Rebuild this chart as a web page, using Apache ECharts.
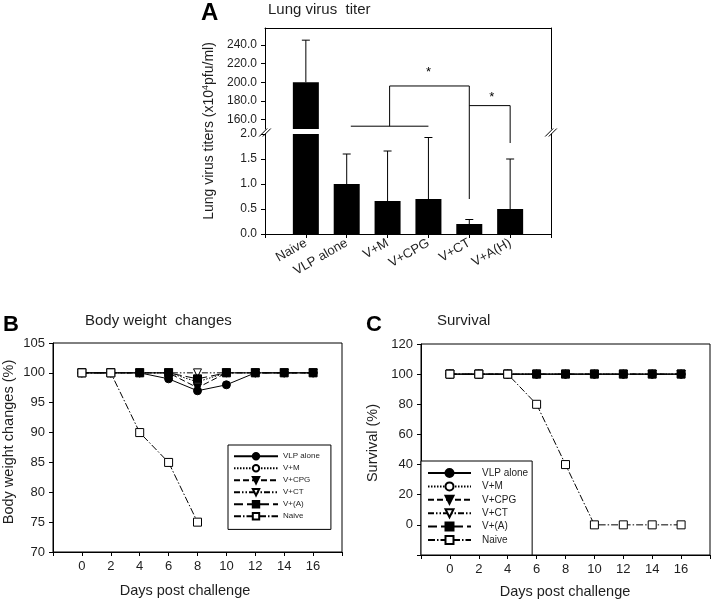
<!DOCTYPE html>
<html>
<head>
<meta charset="utf-8">
<script src="https://cdn.jsdelivr.net/npm/echarts@6/dist/echarts.min.js"></script>
<style>
  html, body { margin: 0; padding: 0; background: #fff; }
  #chart { width: 714px; height: 603px; }
</style>
</head>
<body>
<div id="chart"></div>
<script>
// ---- panel A: lung virus titer ----
const groups = ['Naive', 'VLP alone', 'V+M', 'V+CPG', 'V+CT', 'V+A(H)'];
const titerMean = [200, 1.0, 0.66, 0.7, 0.2, 0.5];
const titerErrTop = [245, 1.6, 1.66, 1.93, 0.29, 1.5];
const upperTicks = [160, 180, 200, 220, 240];
// significance brackets, points are [x, y, part] (part 0 = upper axis, 1 = lower axis)
const brackets = [
  [[2.1, 153, 0], [4.0, 153, 0]],
  [[3.05, 153, 0], [3.05, 196, 0]],
  [[3.05, 196, 0], [5, 196, 0]],
  [[5, 196, 0], [5, 0.7, 1]],
  [[5, 175, 0], [6, 175, 0]],
  [[6, 175, 0], [6, 1.82, 1]]
];
const stars = [[4.0, 211], [5.55, 184]];

// ---- panels B and C ----
const days = [0, 2, 4, 6, 8, 10, 12, 14, 16];
const legendNames = ['VLP alone', 'V+M', 'V+CPG', 'V+CT', 'V+(A)', 'Naive'];

const weightVLP   = [100, 100, 100, 99, 97, 98, 100, 100, 100];
const weightVM    = [100, 100, 100, 100, 98.5, 100, 100, 100, 100];
const weightVCPG  = [100, 100, 100, 100, 97.5, 100, 100, 100, 100];
const weightVCT   = [100, 100, 100, 100, 100, 100, 100, 100, 100];
const weightVA    = [100, 100, 100, 100, 99, 100, 100, 100, 100];
const weightNaive = [100, 100, 90, 85, 75];

const survVLP   = [100, 100, 100, 100, 100, 100, 100, 100, 100];
const survVM    = [100, 100, 100, 100, 100, 100, 100, 100, 100];
const survVCPG  = [100, 100, 100, 100, 100, 100, 100, 100, 100];
const survVCT   = [100, 100, 100, 100, 100, 100, 100, 100, 100];
const survVA    = [100, 100, 100, 100, 100, 100, 100, 100, 100];
const survNaive = [100, 100, 100, 80, 40, 0, 0, 0, 0];

const FONT = 'Liberation Sans, Arial, sans-serif';
const INK = '#1e1e1e';

const looks = [
  { symbol: 'circle', fill: '#000', dash: 'solid' },
  { symbol: 'circle', fill: '#fff', dash: [1.5, 1.5] },
  { symbol: 'triangle', rotate: 180, fill: '#000', dash: [6, 3] },
  { symbol: 'triangle', rotate: 180, fill: '#fff', dash: [6, 2, 1.5, 2, 1.5, 2] },
  { symbol: 'rect', fill: '#000', dash: [9, 4] },
  { symbol: 'rect', fill: '#fff', dash: [7, 2, 1.5, 2] }
];

function lineSeries(idx, values, axisIdx) {
  const look = looks[idx];
  return {
    type: 'line',
    name: legendNames[idx],
    xAxisIndex: axisIdx,
    yAxisIndex: axisIdx + 2,
    data: values.map((v, i) => [days[i], v]),
    symbol: look.symbol,
    symbolRotate: look.rotate || 0,
    symbolSize: 8,
    lineStyle: { color: '#000', width: 1, type: look.dash },
    itemStyle: { color: look.fill, borderColor: '#000', borderWidth: 1 },
    emphasis: { disabled: true },
    z: 3 + idx
  };
}

const errorBars = function (params, api) {
  const x = api.value(0);
  const a = api.coord([x, api.value(1)]);
  const b = api.coord([x, api.value(2)]);
  const cap = 4;
  return {
    type: 'group',
    children: [
      { type: 'line', shape: { x1: a[0], y1: a[1], x2: b[0], y2: b[1] }, style: { stroke: '#000', lineWidth: 1 } },
      { type: 'line', shape: { x1: b[0] - cap, y1: b[1], x2: b[0] + cap, y2: b[1] }, style: { stroke: '#000', lineWidth: 1 } }
    ]
  };
};

const barData = titerMean.map((v, i) => [i + 1, v]);
const errData = titerMean.map((v, i) => [i + 1, v, titerErrTop[i]]);

const axisLine = { show: true, onZero: false, lineStyle: { color: '#000', width: 1 } };
const tick = { show: true, length: 4, lineStyle: { color: '#000' } };
const label = (size) => ({ color: INK, fontSize: size, fontFamily: FONT });
const frameOnly = (extra) => Object.assign({
  type: 'value', min: 0, max: 1, axisLine: axisLine,
  axisTick: { show: false }, axisLabel: { show: false }, splitLine: { show: false }
}, extra);

const chart = echarts.init(document.getElementById('chart'));

let option = {
  animation: false,
  grid: [
    { left: 265, top: 28, width: 286, height: 101 },
    { left: 265, top: 134, width: 286, height: 100 },
    { left: 53, top: 343, width: 289, height: 209, show: true, borderColor: '#000', borderWidth: 1 },
    { left: 421, top: 344, width: 289, height: 211, show: true, borderColor: '#000', borderWidth: 1 }
  ],
  xAxis: [
    frameOnly({ gridIndex: 0, position: 'top', min: 0, max: 7 }),
    {
      type: 'value', gridIndex: 1, min: 0, max: 7, interval: 1,
      axisLine: axisLine, axisTick: tick, splitLine: { show: false },
      axisLabel: Object.assign(label(13), {
        rotate: 30, margin: 8,
        formatter: v => groups[v - 1] || ''
      })
    },
    {
      type: 'value', gridIndex: 2, min: -2, max: 18, interval: 2,
      axisLine: axisLine, axisTick: tick, splitLine: { show: false },
      axisLabel: Object.assign(label(13), { margin: 8, formatter: v => (v < 0 || v > 16) ? '' : v })
    },
    {
      type: 'value', gridIndex: 3, min: -2, max: 18, interval: 2,
      axisLine: axisLine, axisTick: tick, splitLine: { show: false },
      axisLabel: Object.assign(label(13), { margin: 8, formatter: v => (v < 0 || v > 16) ? '' : v })
    }
  ],
  yAxis: [
    {
      type: 'value', gridIndex: 0, min: 150, max: 258,
      axisLine: axisLine, splitLine: { show: false },
      axisTick: Object.assign({ customValues: upperTicks }, tick),
      axisLabel: Object.assign(label(12), { customValues: upperTicks, margin: 8, formatter: v => v.toFixed(1) })
    },
    frameOnly({ gridIndex: 0, position: 'right' }),
    {
      type: 'value', gridIndex: 1, min: 0, max: 2, interval: 0.5,
      axisLine: axisLine, axisTick: tick, splitLine: { show: false },
      axisLabel: Object.assign(label(12), { margin: 8, formatter: v => v.toFixed(1) })
    },
    frameOnly({ gridIndex: 1, position: 'right' }),
    {
      type: 'value', gridIndex: 2, min: 70, max: 105, interval: 5,
      axisLine: axisLine, axisTick: tick, splitLine: { show: false },
      axisLabel: Object.assign(label(13), { margin: 8 })
    },
    {
      type: 'value', gridIndex: 3, min: -20, max: 120, interval: 20,
      axisLine: axisLine, axisTick: tick, splitLine: { show: false },
      axisLabel: Object.assign(label(13), { margin: 8, formatter: v => v < 0 ? '' : v })
    }
  ],
  legend: [
    {
      orient: 'vertical', left: 228, top: 445, data: legendNames, selectedMode: false,
      itemWidth: 44, itemHeight: 8, itemGap: 3.6, padding: [7, 11, 9, 5],
      backgroundColor: '#fff', borderColor: '#000', borderWidth: 1, borderRadius: 0,
      textStyle: label(8), z: 10
    },
    {
      orient: 'vertical', left: 421, top: 461, data: legendNames, selectedMode: false,
      itemWidth: 43, itemHeight: 10, itemGap: 3.4, padding: [7, 4, 10, 6],
      backgroundColor: '#fff', borderColor: '#000', borderWidth: 1, borderRadius: 0,
      textStyle: Object.assign(label(10), { padding: [0, 0, 0, 6] }), z: 10
    }
  ],
  series: [
    { type: 'bar', name: 'titer-upper', xAxisIndex: 0, yAxisIndex: 0, data: barData, barWidth: 26, clip: true, itemStyle: { color: '#000' }, emphasis: { disabled: true } },
    { type: 'bar', name: 'titer-lower', xAxisIndex: 1, yAxisIndex: 2, data: barData, barWidth: 26, clip: true, itemStyle: { color: '#000' }, emphasis: { disabled: true } },
    { type: 'custom', name: 'err-upper', xAxisIndex: 0, yAxisIndex: 0, data: errData, renderItem: errorBars, clip: true, encode: { x: 0, y: 1 }, z: 4 },
    { type: 'custom', name: 'err-lower', xAxisIndex: 1, yAxisIndex: 2, data: errData, renderItem: errorBars, clip: true, encode: { x: 0, y: 1 }, z: 4 },

    lineSeries(0, weightVLP, 2),
    lineSeries(1, weightVM, 2),
    lineSeries(2, weightVCPG, 2),
    lineSeries(3, weightVCT, 2),
    lineSeries(4, weightVA, 2),
    lineSeries(5, weightNaive, 2),

    lineSeries(0, survVLP, 3),
    lineSeries(1, survVM, 3),
    lineSeries(2, survVCPG, 3),
    lineSeries(3, survVCT, 3),
    lineSeries(4, survVA, 3),
    lineSeries(5, survNaive, 3)
  ]
};
chart.setOption(option);

// texts, brackets and axis-break marks
function txt(text, x, y, size, extra) {
  return Object.assign({
    type: 'text', x: x, y: y, silent: true,
    style: Object.assign({ text: text, fontSize: size, fontFamily: FONT, fill: INK, align: 'left', verticalAlign: 'middle' }, extra || {})
  });
}
function vtxt(text, x, y, size) {
  const t = txt(text, x, y, size, { align: 'center' });
  t.rotation = Math.PI / 2;
  return t;
}
function seg(p, q) {
  return { type: 'line', silent: true, z: 20, shape: { x1: p[0], y1: p[1], x2: q[0], y2: q[1] }, style: { stroke: '#000', lineWidth: 1 } };
}
const toPx = (x, y, part) => chart.convertToPixel({ gridIndex: part }, [x, y]);

const graphics = [
  txt('A', 201, 13.5, 24, { fontWeight: 'bold', fill: '#000' }),
  txt('Lung virus  titer', 268, 9.5, 15),
  txt('B', 3, 325, 22, { fontWeight: 'bold', fill: '#000' }),
  txt('Body weight  changes', 85, 321, 15),
  txt('C', 366, 325, 22, { fontWeight: 'bold', fill: '#000' }),
  txt('Survival', 437, 321, 15),
  {
    type: 'text', x: 209, y: 131, rotation: Math.PI / 2, silent: true,
    style: {
      text: 'Lung virus titers (x10{sup|4}pfu/ml)', fontSize: 14, fontFamily: FONT, fill: INK,
      align: 'center', verticalAlign: 'middle',
      rich: { sup: { fontSize: 9, fontFamily: FONT, fill: INK, padding: [0, 0, 7, 0] } }
    }
  },
  vtxt('Body weight changes (%)', 9, 442, 14.5),
  vtxt('Survival (%)', 373, 443, 14.5),
  txt('Days post challenge', 185, 591, 14.5, { align: 'center' }),
  txt('Days post challenge', 565, 592, 14.5, { align: 'center' })
];

brackets.forEach(b => {
  graphics.push(seg(toPx(b[0][0], b[0][1], b[0][2]), toPx(b[1][0], b[1][1], b[1][2])));
});
stars.forEach(s => {
  const p = toPx(s[0], s[1], 0);
  graphics.push({ type: 'text', x: p[0], y: p[1], silent: true, z: 20,
    style: { text: '*', fontSize: 13, fontFamily: FONT, fill: '#000', align: 'center', verticalAlign: 'middle' } });
});
[0, 7].forEach(xv => {
  const top = toPx(xv, 150, 0);
  const bot = toPx(xv, 2, 1);
  const mid = (top[1] + bot[1]) / 2 + 1;
  [-1.8, 1.8].forEach(off => {
    graphics.push(seg([top[0] + off - 4, mid + 4], [top[0] + off + 4, mid - 4]));
  });
});

chart.setOption({ graphic: graphics });
</script>
</body>
</html>
